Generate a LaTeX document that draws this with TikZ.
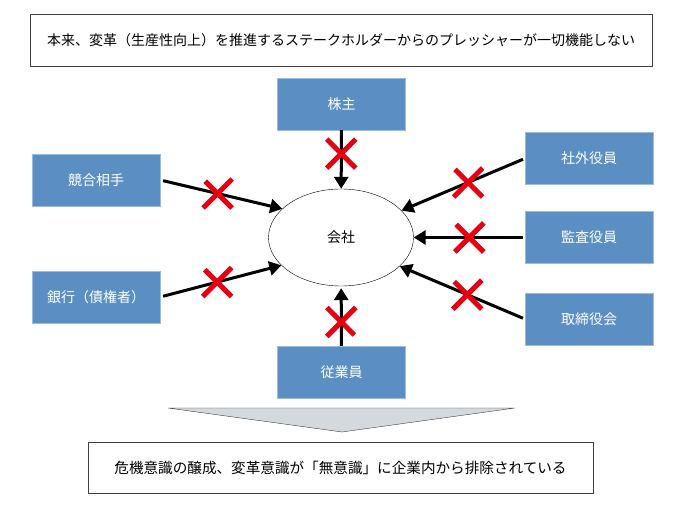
\documentclass[tikz,border=0pt]{standalone}
\usepackage{fontspec}
\newfontfamily\jpfont{Noto Sans CJK JP}
\usetikzlibrary{arrows.meta,shapes.misc,shapes.geometric}
\definecolor{boxblue}{RGB}{91,143,196}
\definecolor{crossred}{RGB}{230,0,18}
\definecolor{framegray}{RGB}{64,64,64}
\definecolor{fillgray}{RGB}{212,217,221}

\begin{document}
\begin{tikzpicture}[x=1pt,y=-1pt,
  blue node/.style={rectangle,fill=boxblue,draw=boxblue!60!white,text=white,minimum width=128pt,minimum height=52pt,font=\jpfont\fontsize{14}{16}\selectfont},
  note node/.style={rectangle,draw=framegray,fill=white,minimum height=52pt,font=\jpfont\fontsize{14}{16}\selectfont},
  cross node/.style={cross out,draw=crossred,line width=5pt,minimum size=24pt,inner sep=0pt},
  push/.style={-{Triangle[length=12pt,width=14pt]},line width=3pt}]

\useasboundingbox (0,0) rectangle (680,510);

\node[note node,minimum width=622pt] (top) at (341,40) {本来、変革（生産性向上）を推進するステークホルダーからのプレッシャーが一切機能しない};

\node[ellipse,draw,minimum width=145pt,minimum height=97pt,font=\jpfont\fontsize{14}{16}\selectfont] (kaisha) at (341,237.5) {会社};

\node[blue node] (kabu) at (341.5,104) {株主};
\node[blue node] (kyogo) at (96,180) {競合相手};
\node[blue node] (ginko) at (96,297) {銀行（債権者）};
\node[blue node] (shagai) at (589,158.5) {社外役員};
\node[blue node] (kansa) at (589,237.5) {監査役員};
\node[blue node] (torishimari) at (589,319) {取締役会};
\node[blue node] (jugyo) at (341.5,372) {従業員};

\path[] (kabu) [push] edge node [cross node,pos=0.4] {} (kaisha);
\path[] (kyogo.east) [push,shorten <=3pt] edge node [cross node,pos=0.47] {} (kaisha.154);
\path[] (ginko.east) [push,shorten <=3pt] edge node [cross node,pos=0.47] {} (kaisha.205);
\path[] (shagai.west) [push,shorten <=2pt] edge node [cross node,pos=0.46] {} (kaisha.24);
\path[] (kansa.west) [push,shorten <=2pt] edge node [cross node,pos=0.5] {} (kaisha.east);
\path[] (torishimari.west) [push,shorten <=2pt] edge node [cross node,pos=0.46] {} (kaisha.334);
\path[] (jugyo) [push,shorten >=2pt] edge node [cross node,pos=0.4] {} (kaisha);

\draw[draw=framegray,fill=fillgray] (168,408) -- (515,408) -- (342,432) -- cycle;

\node[note node,minimum width=505pt,minimum height=51pt,font=\jpfont\fontsize{14.6}{17}\selectfont] (bottom) at (340.5,467.5) {危機意識の醸成、変革意識が「無意識」に企業内から排除されている};
\end{tikzpicture}
\end{document}
